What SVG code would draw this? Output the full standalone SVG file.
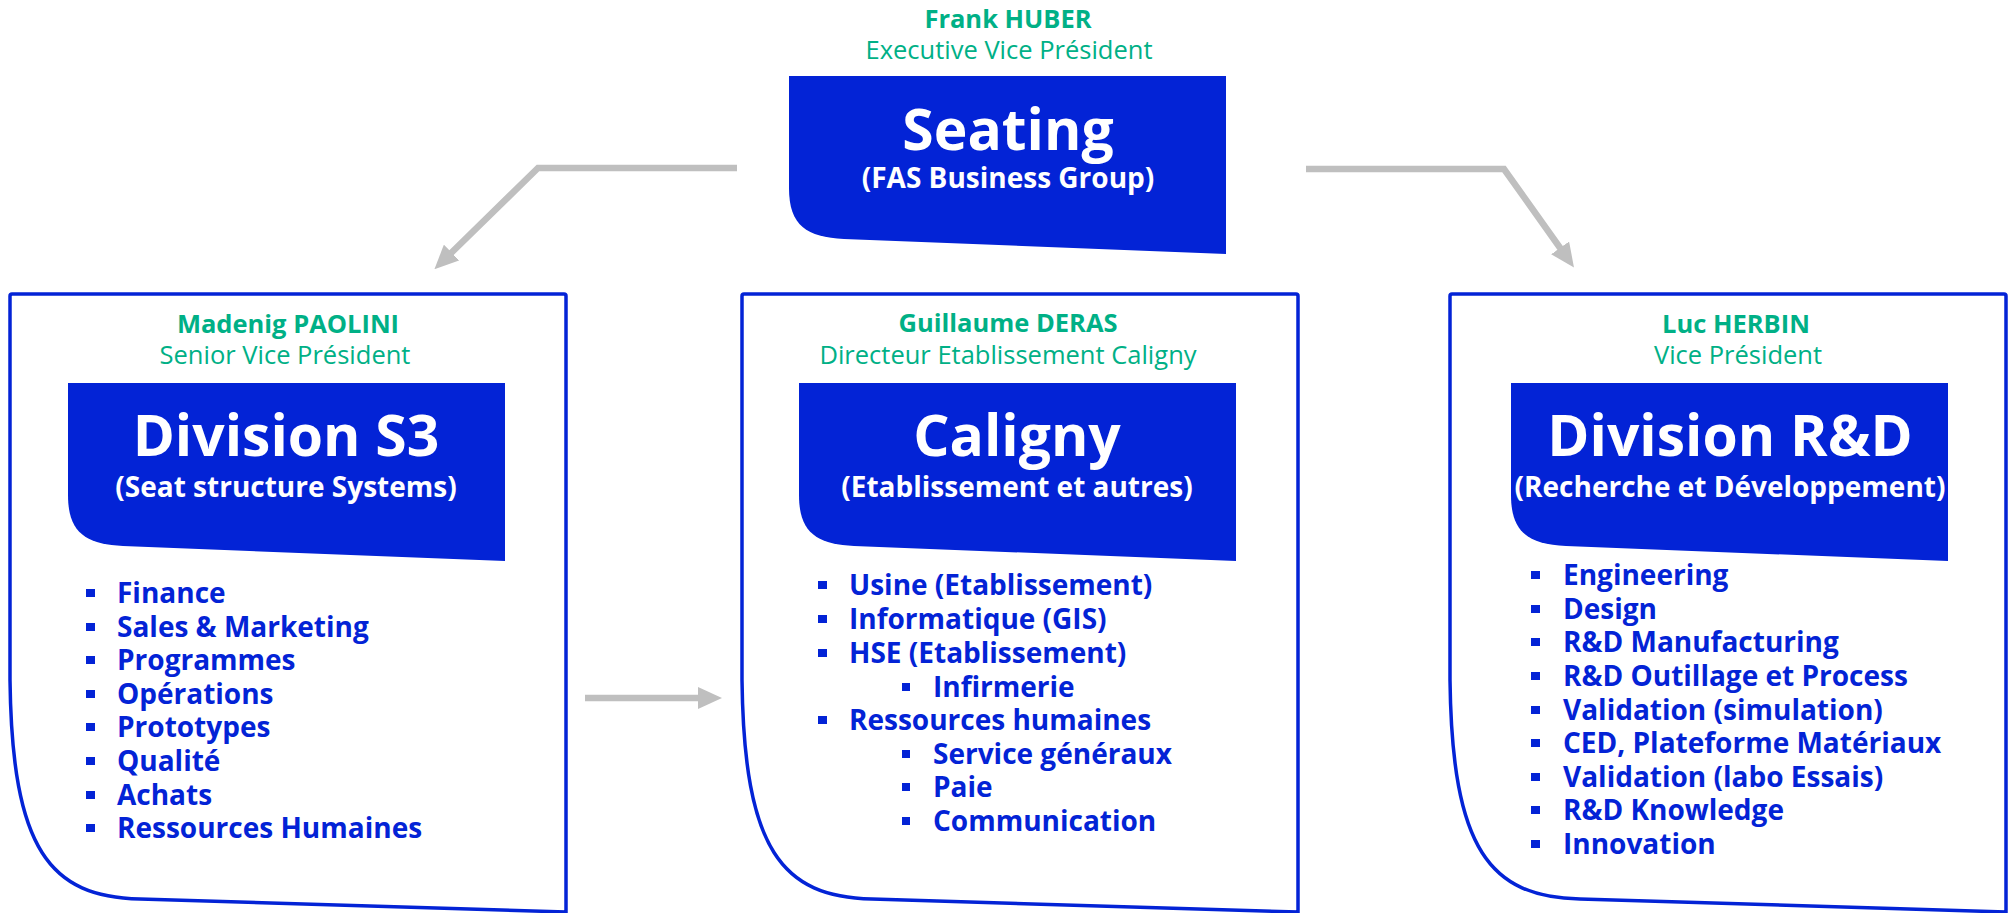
<svg xmlns="http://www.w3.org/2000/svg" xmlns:xlink="http://www.w3.org/1999/xlink" width="2009" height="913" viewBox="0 0 2009 913">
<style>
.frame{fill:#fff;stroke:#0323D6;stroke-width:3.5}
.blk{fill:#0323D6}
.name{font-family:"Open Sans","Liberation Sans",sans-serif;font-weight:700;font-size:25.5px;fill:#00B086;text-anchor:middle}
.role{font-family:"Open Sans","Liberation Sans",sans-serif;font-weight:400;font-size:25.5px;fill:#00B086;text-anchor:middle}
.ttl{font-family:"Open Sans","Liberation Sans",sans-serif;font-weight:700;font-size:57px;fill:#fff;text-anchor:middle}
.sub{font-family:"Open Sans","Liberation Sans",sans-serif;font-weight:700;font-size:28px;fill:#fff;text-anchor:middle}
.itm{font-family:"Open Sans","Liberation Sans",sans-serif;font-weight:700;font-size:28px;fill:#0323D6}
.bul{fill:#0323D6}
.conn{fill:none;stroke:#BFBFBF;stroke-width:6.5}
</style>
<defs>
<path id="frameShape" d="M12,294 H564 Q566,294 566,296 V912 L140,899 C50,897 12,850 10,680 V296 Q10,294 12,294 Z"/>
<path id="blkShape" d="M0,0 H437 V178 L55,163 C18,161 0,150 0,112 Z"/>
<marker id="ah" markerUnits="userSpaceOnUse" viewBox="0 0 24 22" refX="5" refY="11" markerWidth="24" markerHeight="22" orient="auto">
<path d="M0,0 L24,11 L0,22 Z" fill="#BFBFBF"/>
</marker>
</defs>

<g id="connectors">
<polyline class="conn" points="737,168 538,168 448,256" marker-end="url(#ah)"/>
<polyline class="conn" points="1306,169 1504,169 1563,252" marker-end="url(#ah)"/>
<line class="conn" x1="585" y1="698" x2="703" y2="698" marker-end="url(#ah)"/>
</g>

<g id="node-seating">
<text class="name" x="1008" y="28">Frank HUBER</text>
<text class="role" x="1009" y="59">Executive Vice Président</text>
<use xlink:href="#blkShape" class="blk" transform="translate(789,76)"/>
<text class="ttl" x="1008" y="150">Seating</text>
<text class="sub" x="1008" y="188">(FAS Business Group)</text>
</g>

<g id="node-s3">
<use xlink:href="#frameShape" class="frame"/>
<text class="name" x="288" y="333">Madenig PAOLINI</text>
<text class="role" x="285" y="364">Senior Vice Président</text>
<use xlink:href="#blkShape" class="blk" transform="translate(68,383)"/>
<text class="ttl" x="286" y="456">Division S3</text>
<text class="sub" x="286" y="497">(Seat structure Systems)</text>
<g class="bul">
<rect x="86" y="589" width="9" height="8"/>
<rect x="86" y="623" width="9" height="8"/>
<rect x="86" y="656" width="9" height="8"/>
<rect x="86" y="690" width="9" height="8"/>
<rect x="86" y="723" width="9" height="8"/>
<rect x="86" y="757" width="9" height="8"/>
<rect x="86" y="791" width="9" height="8"/>
<rect x="86" y="824" width="9" height="8"/>
</g>
<text class="itm" x="117" y="603">Finance</text>
<text class="itm" x="117" y="637">Sales &amp; Marketing</text>
<text class="itm" x="117" y="670">Programmes</text>
<text class="itm" x="117" y="704">Opérations</text>
<text class="itm" x="117" y="737">Prototypes</text>
<text class="itm" x="117" y="771">Qualité</text>
<text class="itm" x="117" y="805">Achats</text>
<text class="itm" x="117" y="838">Ressources Humaines</text>
</g>

<g id="node-caligny">
<use xlink:href="#frameShape" class="frame" transform="translate(732,0)"/>
<text class="name" x="1008" y="332">Guillaume DERAS</text>
<text class="role" x="1008" y="364">Directeur Etablissement Caligny</text>
<use xlink:href="#blkShape" class="blk" transform="translate(799,383)"/>
<text class="ttl" x="1017" y="456">Caligny</text>
<text class="sub" x="1017" y="497">(Etablissement et autres)</text>
<g class="bul">
<rect x="818" y="581" width="9" height="8"/>
<rect x="818" y="615" width="9" height="8"/>
<rect x="818" y="649" width="9" height="8"/>
<rect x="902" y="683" width="8" height="8"/>
<rect x="818" y="716" width="9" height="8"/>
<rect x="902" y="750" width="8" height="8"/>
<rect x="902" y="783" width="8" height="8"/>
<rect x="902" y="817" width="8" height="8"/>
</g>
<text class="itm" x="849" y="595">Usine (Etablissement)</text>
<text class="itm" x="849" y="629">Informatique (GIS)</text>
<text class="itm" x="849" y="663">HSE (Etablissement)</text>
<text class="itm" x="933" y="697">Infirmerie</text>
<text class="itm" x="849" y="730">Ressources humaines</text>
<text class="itm" x="933" y="764">Service généraux</text>
<text class="itm" x="933" y="797">Paie</text>
<text class="itm" x="933" y="831">Communication</text>
</g>

<g id="node-rd">
<use xlink:href="#frameShape" class="frame" transform="translate(1440,0)"/>
<text class="name" x="1736" y="333">Luc HERBIN</text>
<text class="role" x="1738" y="364">Vice Président</text>
<use xlink:href="#blkShape" class="blk" transform="translate(1511,383)"/>
<text class="ttl" x="1730" y="456">Division R&amp;D</text>
<text class="sub" x="1730" y="497">(Recherche et Développement)</text>
<g class="bul">
<rect x="1531" y="571" width="9" height="8"/>
<rect x="1531" y="605" width="9" height="8"/>
<rect x="1531" y="638" width="9" height="8"/>
<rect x="1531" y="672" width="9" height="8"/>
<rect x="1531" y="706" width="9" height="8"/>
<rect x="1531" y="739" width="9" height="8"/>
<rect x="1531" y="773" width="9" height="8"/>
<rect x="1531" y="806" width="9" height="8"/>
<rect x="1531" y="840" width="9" height="8"/>
</g>
<text class="itm" x="1563" y="585">Engineering</text>
<text class="itm" x="1563" y="619">Design</text>
<text class="itm" x="1563" y="652">R&amp;D Manufacturing</text>
<text class="itm" x="1563" y="686">R&amp;D Outillage et Process</text>
<text class="itm" x="1563" y="720">Validation (simulation)</text>
<text class="itm" x="1563" y="753">CED, Plateforme Matériaux</text>
<text class="itm" x="1563" y="787">Validation (labo Essais)</text>
<text class="itm" x="1563" y="820">R&amp;D Knowledge</text>
<text class="itm" x="1563" y="854">Innovation</text>
</g>
</svg>
